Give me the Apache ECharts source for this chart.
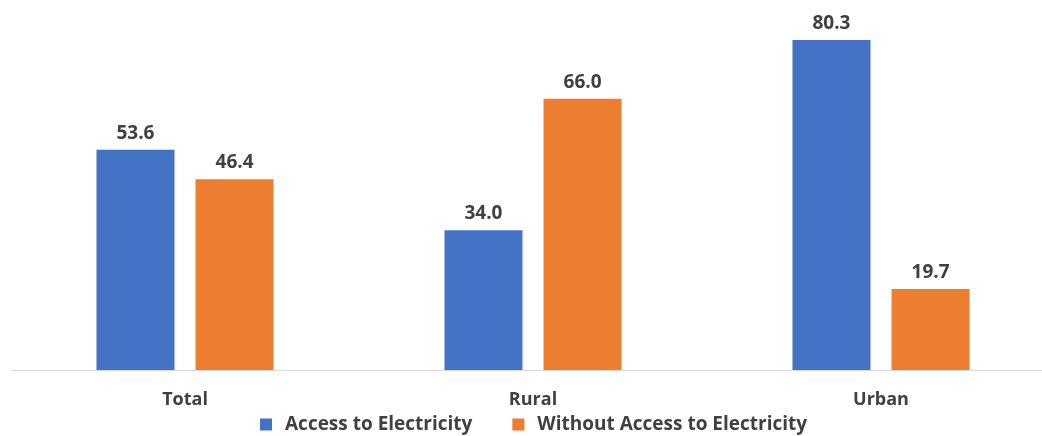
<!DOCTYPE html>
<html>
<head>
<meta charset="utf-8">
<script src="https://cdn.jsdelivr.net/npm/echarts@6/dist/echarts.min.js"></script>
<style>
  html, body { margin: 0; padding: 0; background: #fff; overflow: hidden; }
  /* the plot runs slightly past the right edge, so the canvas is a bit wider than the window */
  #chart { width: 1060px; height: 436px; }
</style>
</head>
<body>
<div id="chart"></div>
<script>
// Share of population by electricity access (%)
const categories = ['Total', 'Rural', 'Urban'];
const accessValues = [53.6, 34.0, 80.3];
const withoutValues = [46.4, 66.0, 19.7];
const seriesNames = ['Access to Electricity', 'Without Access to Electricity'];

const FONT = '"Open Sans", "Liberation Sans", sans-serif';
const TEXT = '#404040';

const chart = echarts.init(document.getElementById('chart'), null, { renderer: 'canvas' });

const labelStyle = {
  show: true,
  position: 'top',
  distance: 7,
  color: TEXT,
  fontFamily: FONT,
  fontWeight: 'bold',
  fontSize: 19,
  formatter: p => p.value.toFixed(1)
};

chart.setOption({
  animation: false,
  backgroundColor: '#ffffff',
  grid: { left: 11, top: 0, width: 1044, height: 370, containLabel: false },
  legend: {
    top: 415,
    left: 260,
    itemWidth: 12,
    itemHeight: 12,
    itemGap: 40,
    icon: 'rect',
    padding: 0,
    textStyle: { color: TEXT, fontFamily: FONT, fontWeight: 'bold', fontSize: 19, padding: [0, 0, 0, 8] },
    data: seriesNames
  },
  xAxis: {
    type: 'category',
    data: categories,
    axisLine: { show: true, lineStyle: { color: '#d9d9d9', width: 1 } },
    axisTick: { show: false },
    axisLabel: { color: TEXT, fontFamily: FONT, fontWeight: 'bold', fontSize: 18, margin: 21 }
  },
  yAxis: {
    type: 'value',
    min: 0,
    max: 90,
    show: false,
    splitLine: { show: false }
  },
  series: [
    {
      name: seriesNames[0],
      type: 'bar',
      data: accessValues,
      barWidth: 78,
      barGap: '27%',
      itemStyle: { color: '#4472C4' },
      label: labelStyle
    },
    {
      name: seriesNames[1],
      type: 'bar',
      data: withoutValues,
      barWidth: 78,
      barGap: '27%',
      itemStyle: { color: '#ED7D31' },
      label: labelStyle
    }
  ]
});
</script>
</body>
</html>
